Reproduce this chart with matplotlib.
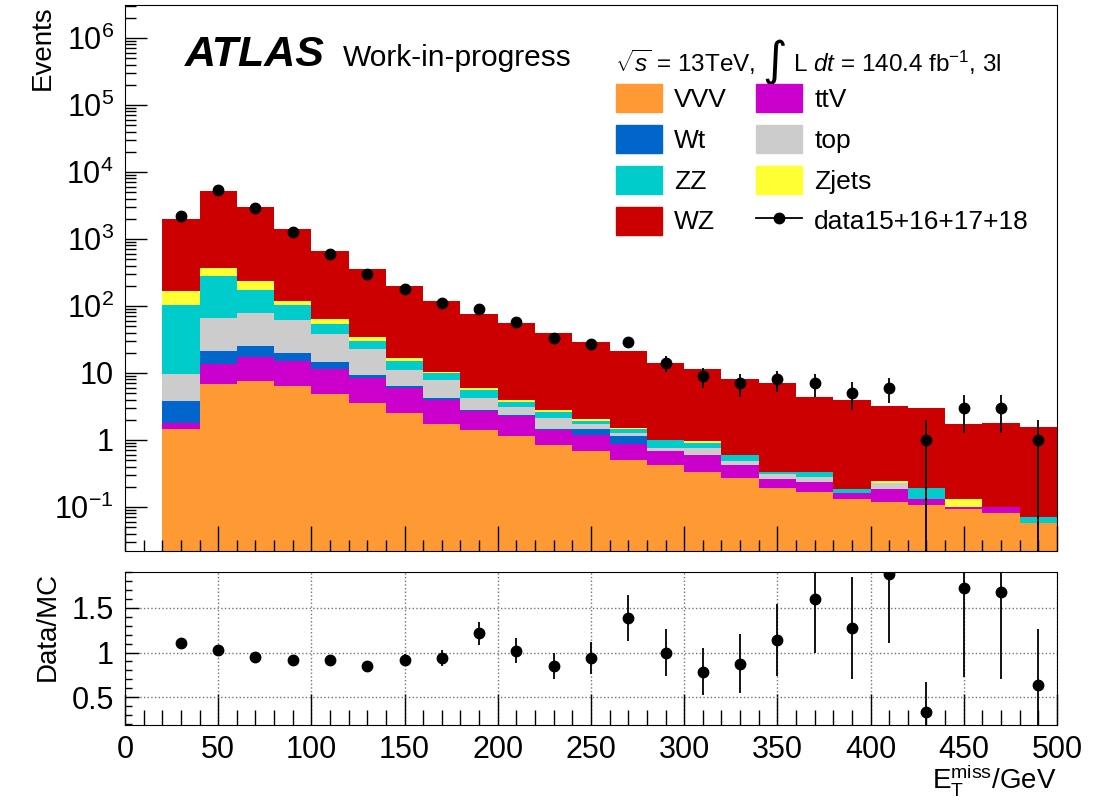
import numpy as np
import matplotlib
matplotlib.use("Agg")
import matplotlib.pyplot as plt
from matplotlib.lines import Line2D
from matplotlib.patches import Patch
from matplotlib.ticker import FixedLocator, FuncFormatter, MultipleLocator, LogLocator, NullFormatter

plt.rcParams['font.family'] = ['Liberation Sans', 'DejaVu Sans']
plt.rcParams['mathtext.fontset'] = 'custom'
plt.rcParams['mathtext.rm'] = 'Liberation Sans'
plt.rcParams['mathtext.it'] = 'Liberation Sans:italic'
plt.rcParams['mathtext.bf'] = 'Liberation Sans:bold'

# --- binning (MET, 20 GeV bins from 20 to 500) ---
edges = np.arange(20, 501, 20)
centers = 0.5 * (edges[:-1] + edges[1:])

# --- MC expectations per process ---
vvv = [1.46, 6.77, 7.6, 6.43, 4.88, 3.55, 2.55, 1.73, 1.41, 1.14, 0.84, 0.69,
       0.50, 0.42, 0.33, 0.27, 0.19, 0.166, 0.13, 0.12, 0.107, 0.092, 0.082, 0.058]
ttv = [0.31, 6.76, 9.9, 8.87, 6.52, 4.75, 3.33, 2.15, 1.33, 1.14, 0.57, 0.50,
       0.365, 0.26, 0.27, 0.15, 0.07, 0.073, 0.03, 0.064, 0.023, 0.009, 0.019, 0.0]
wt = [2.06, 8.0, 7.8, 4.4, 3.0, 1.0, 0.44, 0.33, 0.07, 0.05, 0.03, 0.25,
      0.28, 0.0, 0.0, 0.0, 0.0, 0.0, 0.0, 0.0, 0.0, 0.0, 0.0, 0.0]
top = [5.71, 45.5, 53.4, 41.3, 23.3, 13.3, 4.88, 3.66, 1.38, 0.82, 0.67, 0.26,
       0.11, 0.08, 0.17, 0.07, 0.05, 0.044, 0.0, 0.042, 0.0, 0.0, 0.0, 0.0]
zz = [94, 213.6, 96.5, 42, 16.2, 7.3, 3.9, 2.11, 1.36, 0.59, 0.54, 0.24,
      0.22, 0.23, 0.14, 0.10, 0.02, 0.053, 0.026, 0.0, 0.064, 0.0, 0.0, 0.014]
zjets = [64, 92, 63.2, 16.8, 9.3, 4.5, 1.6, 0.32, 0.33, 0.22, 0.16, 0.10,
         0.055, 0.02, 0.06, 0.01, 0.006, 0.0, 0.0, 0.018, 0.0, 0.029, 0.0, 0.0]
wz = [1816, 4860, 2767, 1285, 587, 322.6, 179.3, 108.7, 68.9, 51.8, 36.0, 26.7,
      19.4, 13.0, 10.5, 7.4, 6.7, 4.03, 3.73, 2.96, 2.8, 1.61, 1.69, 1.51]

# --- observed data ---
data = [2190, 5390, 2870, 1290, 597, 304, 180, 112, 91, 57, 33, 27,
        29, 14, 9, 7, 8, 7, 5, 6, 1, 3, 3, 1]

stack = [
    (vvv, '#ff9933', 'VVV'),
    (ttv, '#cc00cc', 'ttV'),
    (wt, '#0066cc', 'Wt'),
    (top, '#cccccc', 'top'),
    (zz, '#00cccc', 'ZZ'),
    (zjets, '#ffff33', 'Zjets'),
    (wz, '#cc0000', 'WZ'),
]

fig = plt.figure(figsize=(11.07, 8.01), dpi=100)
ax = fig.add_axes([0.1129, 0.3121, 0.8419, 0.6817])
rax = fig.add_axes([0.1129, 0.0949, 0.8419, 0.191])

bottom = np.zeros(len(centers))
for vals, col, lab in stack:
    vals = np.array(vals)
    ax.bar(edges[:-1], vals, width=20, bottom=bottom, align='edge',
           color=col, linewidth=0)
    bottom = bottom + vals
mc = bottom

data = np.array(data, dtype=float)
ax.errorbar(centers, data, yerr=np.sqrt(data), fmt='o', color='k', ms=7.5,
            elinewidth=1.3, capsize=0, zorder=5)

ax.set_yscale('log')
ax.set_xlim(0, 500)
ax.set_ylim(0.022, 3.1e6)

def log_fmt(v, pos):
    e = int(round(np.log10(v)))
    if e == 0:
        return '1'
    if e == 1:
        return '10'
    return r'$10^{%d}$' % e

ax.yaxis.set_major_locator(LogLocator(base=10, numticks=20))
ax.yaxis.set_minor_locator(LogLocator(base=10, subs=np.arange(2, 10), numticks=20))
ax.yaxis.set_major_formatter(FuncFormatter(log_fmt))
ax.yaxis.set_minor_formatter(NullFormatter())
ax.xaxis.set_major_locator(MultipleLocator(50))
ax.xaxis.set_minor_locator(MultipleLocator(10))
ax.tick_params(which='both', direction='in', labelbottom=False, width=1)
ax.tick_params(axis='y', which='major', length=16, labelsize=22, pad=8)
ax.tick_params(axis='y', which='minor', length=8)
ax.tick_params(axis='x', which='major', length=18)
ax.tick_params(axis='x', which='minor', length=8)
ax.set_ylabel('Events', fontsize=20, loc='top')
ax.yaxis.set_label_coords(-0.074, 1.0)

ax.text(0.064, 0.888, 'ATLAS', transform=ax.transAxes, fontsize=31,
        fontweight='bold', fontstyle='italic', va='baseline')
ax.text(0.234, 0.888, 'Work-in-progress', transform=ax.transAxes,
        fontsize=21.5, va='baseline')

# header: sqrt(s), big integral sign, luminosity
h1 = ax.text(0.526, 0.878, r'$\sqrt{s}$ = 13TeV,', transform=ax.transAxes,
             fontsize=17.5, va='baseline')
h2 = ax.annotate('\u222b', xy=(1, 0.5), xycoords=h1, xytext=(5, 0),
                 textcoords='offset points', fontsize=34,
                 family='DejaVu Sans', va='center', ha='left')
h3 = ax.annotate(r'L $dt$ = 140.4 fb$^{-1}$, 3l', xy=(1, 0), xycoords=(h2, h1),
                 xytext=(4, 0), textcoords='offset points', fontsize=17.5,
                 va='bottom', ha='left')

handles = [Patch(color=c, label=l) for _, c, l in stack]
order = ['VVV', 'Wt', 'ZZ', 'WZ', 'ttV', 'top', 'Zjets']
hmap = {h.get_label(): h for h in handles}
leg_handles = [hmap[k] for k in order]
leg_handles.append(Line2D([], [], color='k', marker='o', ms=7.5, lw=1.3,
                          label='data15+16+17+18'))
ax.legend(handles=leg_handles, ncol=2, loc='upper left',
          bbox_to_anchor=(0.527, 0.855), frameon=False, fontsize=19,
          handlelength=1.75, handleheight=1.25, handletextpad=0.45,
          columnspacing=1.1, labelspacing=0.49, borderpad=0, borderaxespad=0)

# --- ratio panel ---
ratio = data / mc
rerr = np.sqrt(data) / mc
rax.errorbar(centers, ratio, yerr=rerr, fmt='o', color='k', ms=7.5,
             elinewidth=1.3, capsize=0, zorder=5)
rax.set_xlim(0, 500)
rax.set_ylim(0.19, 1.9)
rax.xaxis.set_major_locator(MultipleLocator(50))
rax.xaxis.set_minor_locator(MultipleLocator(10))
rax.yaxis.set_major_locator(FixedLocator([0.5, 1.0, 1.5]))
rax.yaxis.set_minor_locator(MultipleLocator(0.1))
rax.yaxis.set_major_formatter(FuncFormatter(lambda v, p: '%g' % v))
rax.grid(True, which='major', linestyle=':', color='0.45', linewidth=1)
rax.tick_params(which='both', direction='in', labelsize=22, width=1)
rax.tick_params(axis='x', which='major', length=22, pad=7)
rax.tick_params(axis='x', which='minor', length=11)
rax.tick_params(axis='y', which='major', length=10, pad=8)
rax.tick_params(axis='y', which='minor', length=5)
rax.set_ylabel('Data/MC', fontsize=20, loc='top')
rax.yaxis.set_label_coords(-0.069, 1.0)
rax.set_xlabel(r'$\mathrm{E}_{\mathrm{T}}^{\mathrm{miss}}$/GeV', fontsize=20, loc='right')
rax.xaxis.set_label_coords(1.0, -0.245)

fig.savefig('out.png', dpi=100)
